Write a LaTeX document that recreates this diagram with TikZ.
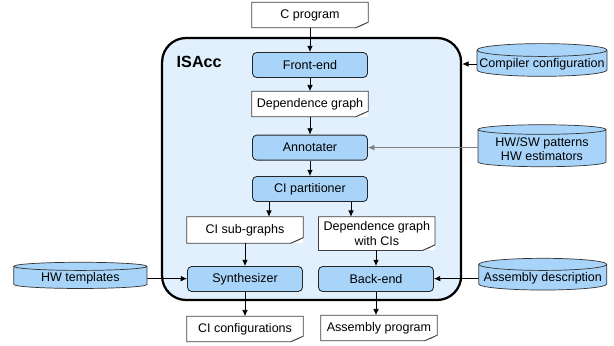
\documentclass[tikz,border=0pt]{standalone}
\usepackage{fontspec}
\setmainfont{Liberation Sans}
\usepackage{xcolor}
\definecolor{procblue}{HTML}{A9D4F9}
\definecolor{isaccblue}{HTML}{E2F0FD}
\definecolor{docgray}{HTML}{404040}
\usepackage{tikz}
\usetikzlibrary{positioning,arrows.meta,shapes.geometric,calc}

% outline of a document node, with the folded corner
\newcommand{\docframe}[1]{%
  \draw[docgray, line width=0.5pt] (#1.south west) -- (#1.north west) -- (#1.north east)
    -- ([yshift=4pt]#1.south east) -- ([xshift=-9pt]#1.south east) -- cycle;
  \draw[docgray, line width=0.4pt, fill=black!25] ([yshift=4pt]#1.south east)
    -- ([xshift=-4pt,yshift=2pt]#1.south east) -- ([xshift=-9pt]#1.south east) -- cycle;
}

\begin{document}
\begin{tikzpicture}[
    every node/.style={font=\fontsize{8.9}{10.2}\selectfont, align=center},
    proc/.style={rectangle, rounded corners=3pt, draw=black!85, line width=0.6pt,
      fill=procblue, minimum width=2.875cm, minimum height=0.625cm, inner sep=1pt},
    doc/.style={rectangle, fill=white, minimum width=2.9cm, minimum height=0.625cm, inner sep=1pt},
    store/.style={cylinder, shape border rotate=90, aspect=0.1, draw=black!80,
      line width=0.5pt, fill=procblue, inner sep=1pt},
    arr/.style={-{Latex[length=4.5pt,width=4pt]}, line width=0.55pt}]
  \useasboundingbox (0,0) rectangle (15.35,-8.625);
  % ISAcc frame
  \node[draw, line width=1.6pt, rounded corners=0.6cm, fill=isaccblue,
    minimum width=7.475cm, minimum height=6.55cm] (isacc) at (7.79,-4.225) {};
  \node[font=\fontsize{11.5}{12}\selectfont\bfseries] (isacclabel) at (4.98,-1.55) {ISAcc};
  % documents
  \node[doc] (prog) at (7.75,-0.375) {C program};
  \node[doc] (dep) at (7.75,-2.6) {Dependence graph};
  \node[doc, minimum height=0.65cm] (subg) at (6.125,-5.75) {CI sub-graphs};
  \node[doc, minimum height=0.83cm] (depci) at (9.42,-5.84) {Dependence graph\\with CIs};
  \node[doc] (cicfg) at (6.125,-8.225) {CI configurations};
  \node[doc] (asmprog) at (9.475,-8.2) {Assembly program};
  \foreach \d in {prog,dep,subg,depci,cicfg,asmprog}
    \docframe{\d};
  % stages
  \node[proc] (front) at (7.75,-1.625) {Front-end};
  \node[proc] (annot) at (7.75,-3.69) {Annotater};
  \node[proc] (part) at (7.75,-4.725) {CI partitioner};
  \node[proc] (synth) at (6.125,-6.975) {Synthesizer};
  \node[proc] (back) at (9.4,-6.975) {Back-end};
  % external inputs
  \node[store, minimum width=3.25cm, minimum height=0.5cm] (compcfg) at (13.55,-1.6) {Compiler configuration};
  \node[store, minimum width=3.2cm, minimum height=1.05cm] (hwsw) at (13.55,-3.72) {HW/SW patterns\\HW estimators};
  \node[store, minimum width=3.33cm, minimum height=0.5cm] (hwt) at (2.01,-6.95) {HW templates};
  \node[store, minimum width=3.2cm, minimum height=0.5cm] (asmdesc) at (13.57,-6.95) {Assembly description};
  % flow
  \draw[arr] (prog) -- (front);
  \draw[arr] (front) -- (dep);
  \draw[arr] (dep) -- (annot);
  \draw[arr] (annot) -- (part);
  \draw[arr] ([xshift=-1.025cm]part.south) -- ([xshift=-1.025cm]part.south |- subg.north);
  \draw[arr] ([xshift=1.025cm]part.south) -- ([xshift=1.025cm]part.south |- depci.north);
  \draw[arr] (subg) -- (synth);
  \draw[arr] (depci.south -| back) -- (back);
  \draw[arr] (synth) -- (cicfg.north -| synth);
  \draw[arr] (back) -- (asmprog.north -| back);
  \draw[arr] (hwt) -- (synth);
  \draw[arr] (asmdesc) -- (back);
  \draw[arr] (compcfg.west) -- (compcfg.west -| isacc.east);
  \draw[arr, draw=black!50] (hwsw.west |- annot) -- (annot);
\end{tikzpicture}
\end{document}
